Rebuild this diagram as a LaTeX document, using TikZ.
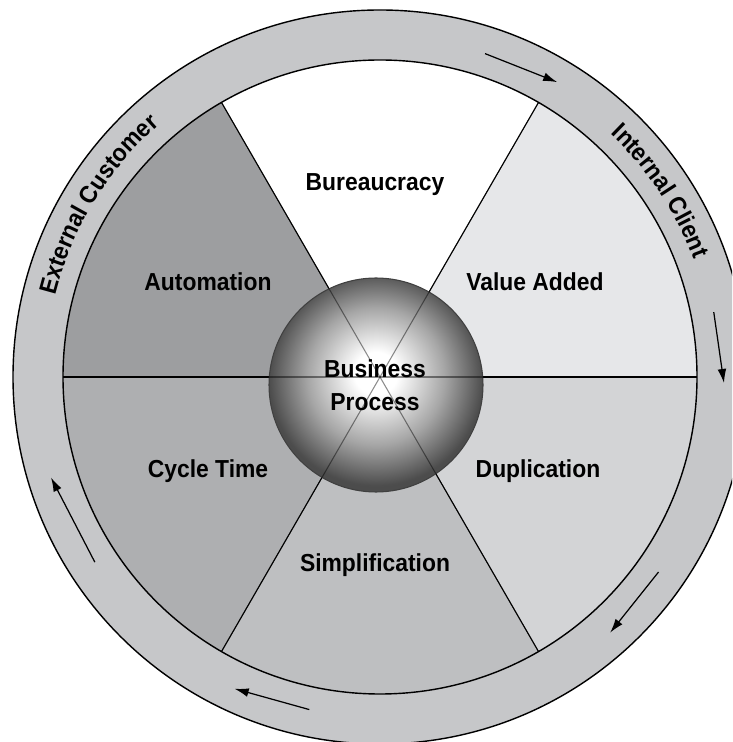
\documentclass[tikz,border=0pt]{standalone}
\usepackage{fontspec}
\newfontfamily\wheelfont[FakeStretch=0.93]{Liberation Sans}
\usetikzlibrary{arrows.meta}
\usetikzlibrary{decorations.text}
\usepackage{xcolor}
\definecolor{ringgray}{HTML}{C6C7C9}
\definecolor{autogray}{HTML}{9D9EA0}
\definecolor{cyclegray}{HTML}{AEAFB1}
\definecolor{simpgray}{HTML}{BEBFC1}
\definecolor{dupgray}{HTML}{D3D4D6}
\definecolor{valgray}{HTML}{E6E7E9}
\pgfdeclareradialshading{bpball}{\pgfpoint{0bp}{3bp}}{color(0bp)=(white); color(5bp)=(white); color(16bp)=(black!35); color(25bp)=(black!70); color(50bp)=(black!70)}
\newcommand\wheeltext{\wheelfont\bfseries\fontsize{14}{19}\selectfont}

\begin{document}
\begin{tikzpicture}[x=0.02cm, y=0.02cm, font=\wheeltext, >={Latex[length=8pt,width=5pt]}]
\useasboundingbox (-380,-365) rectangle (352,377);
\clip (-380,-365) rectangle (352,377);
\fill[white] (-380,-365) rectangle (352,377);
\draw[line width=.8pt, fill=ringgray] (0,0) circle (367);
\foreach \a/\c in {0/valgray,60/white,120/autogray,180/cyclegray,240/simpgray,300/dupgray} {
 \fill[\c] (0,0) -- (\a:317) arc (\a:\a+60:317) -- cycle;
}
\foreach \a in {0,60,...,300} \draw[line width=.6pt] (0,0) -- (\a:317);
\draw[line width=.8pt] (0,0) circle (317);
\shade[shading=bpball] (-4,-8) circle (107);
\draw[black!75, line width=.6pt] (-4,-8) circle (107);
\foreach \a in {0,60,...,300} \draw[line width=.6pt, opacity=.45] (0,0) -- (\a:317);
\node (bur) at (-5,192) {Bureaucracy};
\node (val) at (155,95) {Value Added};
\node (dup) at (158,-94) {Duplication};
\node (simp) at (-5,-188) {Simplification};
\node (cyc) at (-172,-94) {Cycle Time};
\node (aut) at (-172,95) {Automation};
\node[align=center] (bp) at (-5,-8) {Business\\Process};
\path[decorate, decoration={text along path, text align=center, text={|\wheeltext|External Customer}}] (178:335) arc (178:119:335);
\path[decorate, decoration={text along path, text align=center, text={|\wheeltext|Internal Client}}] (63:335) arc (63:4:335);
\foreach \s/\e [count=\i] in {72/59, 11/-1, -35/-48, 258/245, 213/197} {
 \coordinate (as\i) at (\s:340);
 \coordinate (ae\i) at (\e:344);
 \draw[->, line width=.7pt] (as\i) -- (ae\i);
}
\end{tikzpicture}
\end{document}
